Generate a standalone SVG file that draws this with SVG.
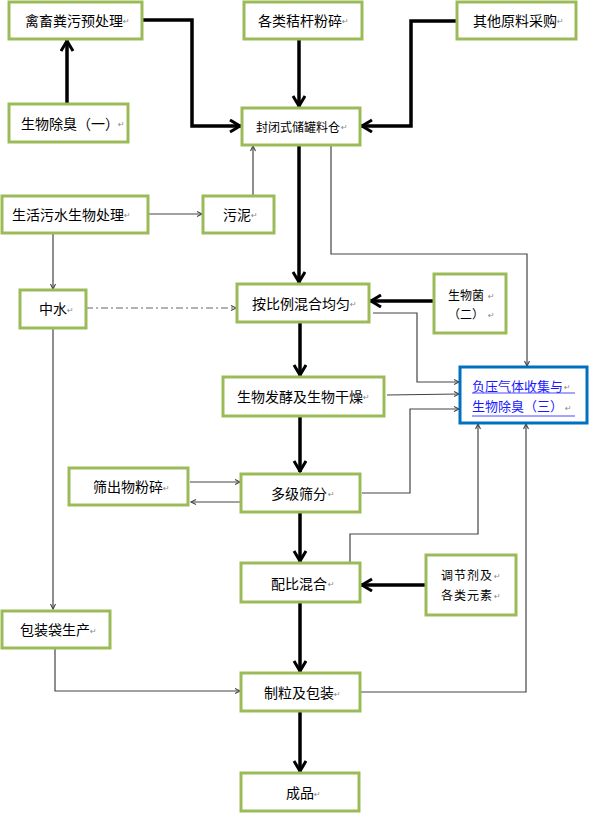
<svg xmlns="http://www.w3.org/2000/svg" width="589" height="813" viewBox="0 0 589 813">
<style>
.b{fill:#fff;stroke:#9BBB59;stroke-width:3}
.bb{fill:#fff;stroke:#0070C0;stroke-width:3}
.t{font-family:"Noto Sans CJK SC","Noto Sans",sans-serif;font-size:14px;fill:#000;dominant-baseline:central}
.s{font-size:12px}
.m{font-family:"DejaVu Sans",sans-serif;font-size:8px;fill:#888;dominant-baseline:central}
.bl{fill:#1a1aff;font-size:13px}
.k{fill:none;stroke:#000;stroke-width:3.5}
.n{fill:none;stroke:#444;stroke-width:1.2}
.d{fill:none;stroke:#666;stroke-width:1.2;stroke-dasharray:7,3,2,3}
</style>
<defs>
<marker id="ah" markerUnits="userSpaceOnUse" markerWidth="16" markerHeight="16" refX="13" refY="7" orient="auto"><path d="M2,1 L12,7 L2,13" fill="none" stroke="#000" stroke-width="3"/></marker>
<marker id="as" markerUnits="userSpaceOnUse" markerWidth="8" markerHeight="8" refX="6" refY="3" orient="auto"><path d="M1,0.5 L6,3 L1,5.5" fill="none" stroke="#444" stroke-width="1.1"/></marker>
</defs>
<g id="connectors">
<line class="k" x1="67" y1="104" x2="67" y2="40" marker-end="url(#ah)"/>
<polyline class="k" points="142,20 192,20 192,126 241,126" marker-end="url(#ah)"/>
<line class="k" x1="299" y1="39" x2="299" y2="107" marker-end="url(#ah)"/>
<polyline class="k" points="457,21 411,21 411,126 361,126" marker-end="url(#ah)"/>
<line class="n" x1="253" y1="195" x2="253" y2="146" marker-end="url(#as)"/>
<line class="n" x1="148" y1="214" x2="202" y2="214" marker-end="url(#as)"/>
<line class="n" x1="53" y1="233" x2="53" y2="289" marker-end="url(#as)"/>
<line class="d" x1="86" y1="308" x2="236" y2="308" marker-end="url(#as)"/>
<line class="n" x1="53" y1="328" x2="53" y2="609" marker-end="url(#as)"/>
<line class="k" x1="299" y1="145" x2="299" y2="283" marker-end="url(#ah)"/>
<polyline class="n" points="331,145 331,254 527,254 527,366" marker-end="url(#as)"/>
<line class="k" x1="434" y1="301" x2="370" y2="301" marker-end="url(#ah)"/>
<polyline class="n" points="373,313 417,313 417,382 459,382" marker-end="url(#as)"/>
<line class="k" x1="300" y1="322" x2="300" y2="376" marker-end="url(#ah)"/>
<line class="n" x1="387" y1="395" x2="459" y2="394" marker-end="url(#as)"/>
<line class="k" x1="300" y1="416" x2="300" y2="472" marker-end="url(#ah)"/>
<line class="n" x1="190" y1="482" x2="240" y2="482" marker-end="url(#as)"/>
<line class="n" x1="241" y1="502" x2="191" y2="502" marker-end="url(#as)"/>
<polyline class="n" points="362,493 410,493 410,409 459,409" marker-end="url(#as)"/>
<line class="k" x1="300" y1="512" x2="300" y2="562" marker-end="url(#ah)"/>
<polyline class="n" points="350,563 350,534 478,534 478,424" marker-end="url(#as)"/>
<line class="k" x1="426" y1="585" x2="361" y2="585" marker-end="url(#ah)"/>
<line class="k" x1="300" y1="602" x2="300" y2="672" marker-end="url(#ah)"/>
<polyline class="n" points="55,648 55,691 240,691" marker-end="url(#as)"/>
<polyline class="n" points="360,692 526,692 526,424" marker-end="url(#as)"/>
<line class="k" x1="300" y1="711" x2="300" y2="772" marker-end="url(#ah)"/>
</g>
<g id="n1"><rect class="b" x="9" y="2" width="133" height="37"/><text class="t" x="25" y="20">禽畜粪污预处理</text><text class="m" x="123" y="21">↵</text></g>
<g id="n2"><rect class="b" x="244" y="2" width="118" height="37"/><text class="t" x="258" y="20">各类秸杆粉碎</text><text class="m" x="342" y="21">↵</text></g>
<g id="n3"><rect class="b" x="457" y="2" width="119" height="37"/><text class="t" x="473" y="20">其他原料采购</text><text class="m" x="557" y="21">↵</text></g>
<g id="n4"><rect class="b" x="9" y="104" width="119" height="38"/><text class="t" x="21" y="123">生物除臭（一）</text><text class="m" x="118" y="124">↵</text></g>
<g id="n5"><rect class="b" x="242" y="108" width="118" height="37"/><text class="t s" x="256" y="126">封闭式储罐料仓</text><text class="m" x="341" y="127">↵</text></g>
<g id="n6"><rect class="b" x="2" y="196" width="146" height="37"/><text class="t" x="12" y="214">生活污水生物处理</text><text class="m" x="124" y="215">↵</text></g>
<g id="n7"><rect class="b" x="203" y="196" width="71" height="37"/><text class="t" x="223" y="214">污泥</text><text class="m" x="251" y="215">↵</text></g>
<g id="n8"><rect class="b" x="20" y="290" width="66" height="38"/><text class="t" x="39" y="308">中水</text><text class="m" x="67" y="310">↵</text></g>
<g id="n9"><rect class="b" x="237" y="284" width="132" height="38"/><text class="t" x="252" y="303">按比例混合均匀</text><text class="m" x="350" y="304">↵</text></g>
<g id="n10"><rect class="b" x="434" y="274" width="72" height="59"/><text class="t s" x="448" y="294">生物菌</text><text class="m" x="488" y="296">↵</text><text class="t s" x="448" y="313">（二）</text><text class="m" x="488" y="315">↵</text></g>
<g id="n11"><rect class="bb" x="460" y="367" width="127" height="56"/><text class="t bl" x="472" y="385">负压气体收集与</text><text class="m" x="564" y="387">↵</text><line x1="472" y1="393" x2="575" y2="393" stroke="#4a4aff" stroke-width="1"/><text class="t bl" x="472" y="405">生物除臭（三）</text><text class="m" x="565" y="408">↵</text><line x1="472" y1="416" x2="575" y2="416" stroke="#4a4aff" stroke-width="1"/></g>
<g id="n12"><rect class="b" x="223" y="377" width="161" height="39"/><text class="t" x="237" y="396">生物发酵及生物干燥</text><text class="m" x="363" y="397">↵</text></g>
<g id="n13"><rect class="b" x="69" y="468" width="119" height="37"/><text class="t" x="93" y="486">筛出物粉碎</text><text class="m" x="163" y="488">↵</text></g>
<g id="n14"><rect class="b" x="241" y="474" width="119" height="38"/><text class="t" x="271" y="493">多级筛分</text><text class="m" x="328" y="494">↵</text></g>
<g id="n15"><rect class="b" x="241" y="563" width="119" height="39"/><text class="t" x="271" y="583">配比混合</text><text class="m" x="328" y="584">↵</text></g>
<g id="n16"><rect class="b" x="426" y="555" width="90" height="60"/><text class="t s" x="441" y="574" letter-spacing="1">调节剂及</text><text class="m" x="494" y="576">↵</text><text class="t s" x="441" y="594" letter-spacing="1">各类元素</text><text class="m" x="494" y="596">↵</text></g>
<g id="n17"><rect class="b" x="2" y="611" width="108" height="37"/><text class="t" x="20" y="629">包装袋生产</text><text class="m" x="90" y="631">↵</text></g>
<g id="n18"><rect class="b" x="241" y="673" width="119" height="38"/><text class="t" x="264" y="692">制粒及包装</text><text class="m" x="334" y="694">↵</text></g>
<g id="n19"><rect class="b" x="241" y="773" width="118" height="38"/><text class="t" x="286" y="792">成品</text><text class="m" x="314" y="794">↵</text></g>
</svg>
